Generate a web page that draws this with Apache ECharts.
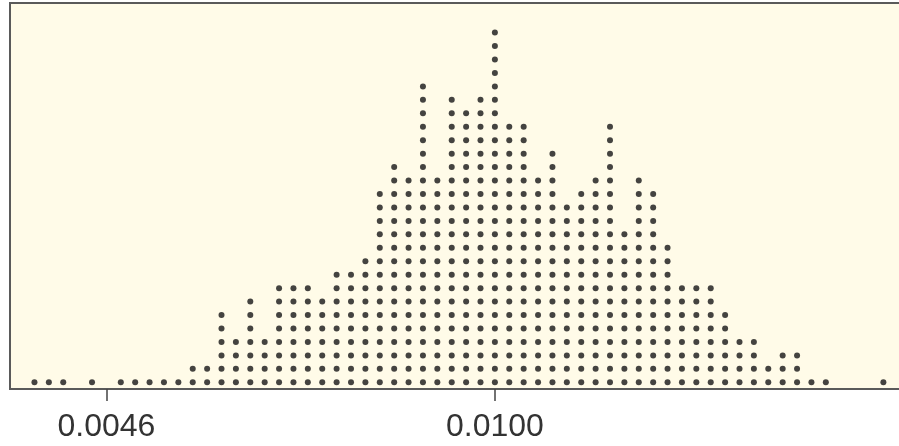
<!DOCTYPE html>
<html>
<head>
<meta charset="utf-8">
<script src="https://cdn.jsdelivr.net/npm/echarts@6/dist/echarts.min.js"></script>
<style>
html,body{margin:0;padding:0;background:#ffffff;}
#chart{width:899px;height:446px;}
</style>
</head>
<body>
<div id="chart"></div>
<script>
// Bin positions (x value of each dot column)
const binValues = [
  0.0036, 0.0038, 0.0040, 0.0042, 0.0044, 0.0046, 0.0048, 0.0050, 0.0052, 0.0054,
  0.0056, 0.0058, 0.0060, 0.0062, 0.0064, 0.0066, 0.0068, 0.0070, 0.0072, 0.0074,
  0.0076, 0.0078, 0.0080, 0.0082, 0.0084, 0.0086, 0.0088, 0.0090, 0.0092, 0.0094,
  0.0096, 0.0098, 0.0100, 0.0102, 0.0104, 0.0106, 0.0108, 0.0110, 0.0112, 0.0114,
  0.0116, 0.0118, 0.0120, 0.0122, 0.0124, 0.0126, 0.0128, 0.0130, 0.0132, 0.0134,
  0.0136, 0.0138, 0.0140, 0.0142, 0.0144, 0.0146, 0.0148, 0.0150, 0.0152, 0.0154
];
// Number of dots stacked in each column
const binCounts = [
  1, 1, 1, 0, 1, 0, 1, 1, 1, 1,
  1, 2, 2, 6, 4, 7, 4, 8, 8, 8,
  7, 9, 9, 10, 15, 17, 16, 23, 16, 22,
  21, 22, 27, 20, 20, 16, 18, 14, 15, 16,
  20, 12, 16, 15, 11, 8, 8, 8, 6, 4,
  4, 2, 3, 3, 1, 1, 0, 0, 0, 1
];
// Tick labels shown on the x axis
const tickValues = [0.0046, 0.0100];

const dots = [];
binValues.forEach(function (x, i) {
  for (let j = 1; j <= binCounts[i]; j++) {
    dots.push([x, j - 0.5]);
  }
});

const chart = echarts.init(document.getElementById('chart'), null, {renderer: 'canvas'});
chart.setOption({
  animation: false,
  backgroundColor: '#ffffff',
  grid: {
    left: 10, top: 3, width: 900, height: 386,
    outerBoundsMode: 'none',
    containLabel: false,
    show: true,
    backgroundColor: '#fffbe8',
    borderColor: '#5a5a5a',
    borderWidth: 2
  },
  xAxis: {
    type: 'value',
    min: 0.00326,
    max: 0.01577,
    axisLine: {show: false},
    splitLine: {show: false},
    axisTick: {
      show: true, length: 12, inside: false,
      customValues: tickValues,
      lineStyle: {color: '#444444', width: 1.5}
    },
    axisLabel: {
      show: true,
      customValues: tickValues,
      margin: 22,
      fontFamily: 'Liberation Sans, Arial, sans-serif',
      fontSize: 32,
      color: '#333333',
      formatter: function (v) { return v.toFixed(4); }
    }
  },
  yAxis: {
    type: 'value',
    min: 0,
    max: 28.7,
    show: false,
    splitLine: {show: false}
  },
  series: [{
    type: 'scatter',
    data: dots,
    symbol: 'circle',
    symbolSize: 6,
    itemStyle: {color: '#151515'},
    silent: true
  }]
});
</script>
</body>
</html>
